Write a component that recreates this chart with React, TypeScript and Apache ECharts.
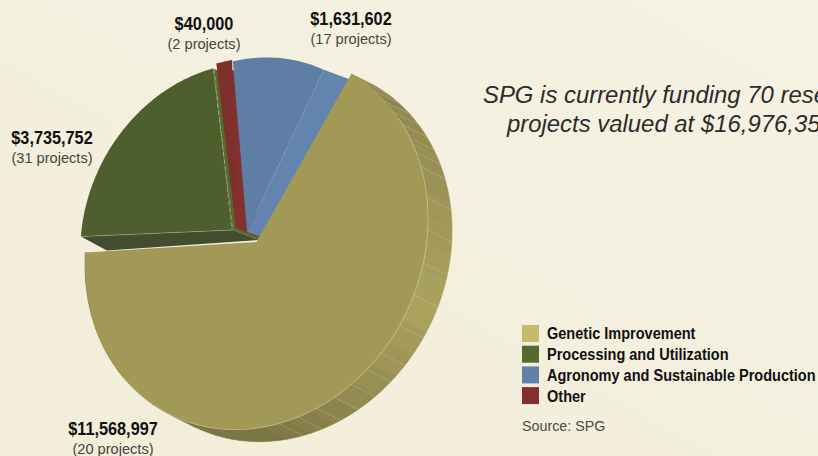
import React, { useEffect, useRef } from "react";
import * as echarts from "echarts";

const categories = ["Genetic Improvement", "Processing and Utilization", "Other", "Agronomy and Sustainable Production"];
const legendOrder = ["Genetic Improvement", "Processing and Utilization", "Agronomy and Sustainable Production", "Other"];
const fundingValues = [11568997, 3735752, 40000, 1631602];
const projectCounts = [20, 31, 2, 17];
const legendColors = ["#c8ba6c", "#56692f", "#84302e", "#6180aa"];
const topColors = ["#a29956", "#4f5e2d", "#7d302c", "#5f7ea6"];

const headline = ["SPG is currently funding 70 research", "projects valued at $16,976,351"];
const sourceNote = "Source: SPG";

// slice geometry of the tilted disc
const A = 193;
const B = 165.5;
const TILT = (27 * Math.PI) / 180;
const START = 2.8;
const PAD = 1.8;
const MIN_RED = 5.8;
const tips = [[256.5, 242], [233, 230], [236, 228], [247, 232]];
const radiusScale = [1, 0.89, 0.905, 0.93];
const angleNudge = [0, -0.9, -2.4, -2.9];
const depths = [[24, 12], [26, 10], [24, 10], [27, 10]];
const labelPos = [[113, 429], [52, 138], [204, 24], [351, 19]];

const total = fundingValues.reduce((a, b) => a + b, 0);
const sweepTotal = 360 - 4 * PAD;

function ringPoint(i: number, deg: number, extra = [0, 0]) {
  const t = (deg * Math.PI) / 180;
  const r = radiusScale[i];
  const u = r * A * Math.cos(t);
  const v = r * B * Math.sin(t);
  return [
    tips[i][0] + u * Math.sin(TILT) + v * Math.cos(TILT) + extra[0],
    tips[i][1] - u * Math.cos(TILT) + v * Math.sin(TILT) + extra[1],
  ];
}

function arcPoints(i: number, from: number, to: number, extra = [0, 0]) {
  const n = Math.max(2, Math.ceil(Math.abs(to - from)));
  const pts: number[][] = [];
  for (let k = 0; k <= n; k++) pts.push(ringPoint(i, from + ((to - from) * k) / n, extra));
  return pts;
}

function angleRange(i: number) {
  let a = START;
  for (let k = 0; k < i; k++) a += (fundingValues[k] / total) * sweepTotal + PAD;
  a += angleNudge[i];
  const span = (fundingValues[i] / total) * sweepTotal;
  return [a, a + Math.max(span, i === 2 ? MIN_RED : span)];
}

function poly(points: number[][], fill: string, extra: any = {}) {
  return { type: "polygon", shape: { points }, style: { fill, ...extra }, silent: true };
}

function lerpColor(c1: number[], c2: number[], f: number) {
  return `rgb(${c1.map((c, i) => Math.round(c + (c2[i] - c) * f)).join(",")})`;
}

function wallColor(deg: number) {
  const bright = [171, 162, 94];
  const dark = [123, 116, 67];
  const upper = [140, 132, 78];
  if (deg < 85) return lerpColor(upper, bright, Math.max(0, deg - 10) / 75);
  if (deg < 150) return lerpColor(bright, dark, (deg - 85) / 65);
  return lerpColor(dark, dark, 0);
}

function renderSlice(i: number) {
  return (_params: any, api: any) => {
    api.value(0);
    const [from, to] = angleRange(i);
    const d = depths[i];
    const tip = tips[i];
    const tipD = [tip[0] + d[0], tip[1] + d[1]];
    const children: any[] = [];
    if (i === 0) {
      const stepDeg = 8;
      for (let a = from; a < to; a += stepDeg) {
        const b = Math.min(to, a + stepDeg);
        const q = [...arcPoints(0, a, b), ...arcPoints(0, b, a, d)];
        children.push(poly(q, wallColor((a + b) / 2), { stroke: wallColor((a + b) / 2), lineWidth: 0.6 }));
      }
      for (let a = from + 5; a < 142; a += a < 40 ? 5 : a < 95 ? 10 : 6.5) {
        const p = ringPoint(0, a);
        const q = ringPoint(0, a, d);
        children.push({
          type: "line",
          shape: { x1: p[0], y1: p[1], x2: q[0], y2: q[1] },
          style: { stroke: "rgba(240,236,205,0.45)", lineWidth: 0.7, lineDash: [2, 1] },
          silent: true,
        });
      }
    }
    if (i === 1) {
      children.push(poly([tip, ringPoint(1, from), ringPoint(1, from, [26, 14]), tipD], "#434c2e"));
      children.push(poly([tip, ringPoint(1, to), ringPoint(1, to, d), tipD], "#56692f"));
    }
    if (i === 2) {
      children.push(poly([tip, ringPoint(2, from), ringPoint(2, from, d), tipD], "#84302e"));
    }
    if (i === 3) {
      children.push(poly([tip, ringPoint(3, to), ringPoint(3, to, d), tipD], "#6484b0"));
    }
    children.push(poly([tip, ...arcPoints(i, from, to)], topColors[i]));
    if (i === 0) {
      children.push({
        type: "polyline",
        shape: { points: arcPoints(0, 25, 200) },
        style: { fill: "none", stroke: "rgba(240,236,205,0.5)", lineWidth: 0.7 },
        silent: true,
      });
    }
    if (i === 1) {
      const e = ringPoint(1, to);
      const s = ringPoint(1, from);
      children.push({
        type: "line",
        shape: { x1: e[0] + 1, y1: e[1], x2: tip[0] - 1, y2: tip[1] },
        style: { stroke: "rgba(220,225,190,0.55)", lineWidth: 0.8, lineDash: [5, 2] },
        silent: true,
      });
      children.push({
        type: "line",
        shape: { x1: s[0], y1: s[1], x2: tip[0], y2: tip[1] },
        style: { stroke: "rgba(220,225,190,0.4)", lineWidth: 0.8 },
        silent: true,
      });
    }
    return { type: "group", children };
  };
}

const SANS = "'Liberation Sans', Arial, sans-serif";

function formatMoney(v: number) {
  return "$" + v.toLocaleString("en-US");
}

export default function App() {
  const ref = useRef<HTMLDivElement>(null);
  useEffect(() => {
    const chart = echarts.init(ref.current!, undefined, { renderer: "svg" });
    const drawOrder = [1, 2, 3, 0];
    const labels: any[] = [];
    fundingValues.forEach((v, i) => {
      labels.push({
        type: "text",
        x: labelPos[i][0],
        y: labelPos[i][1],
        scaleX: 0.88,
        style: {
          text: formatMoney(v),
          font: `bold 18.5px ${SANS}`,
          fill: "#111",
          textAlign: "center",
          textVerticalAlign: "middle",
        },
      });
      labels.push({
        type: "text",
        x: labelPos[i][0],
        y: labelPos[i][1] + 20,
        style: {
          text: `(${projectCounts[i]} projects)`,
          font: `14.6px ${SANS}`,
          fill: "#45453f",
          textAlign: "center",
          textVerticalAlign: "middle",
        },
      });
    });
    const legendItems: any[] = [];
    legendOrder.forEach((name, k) => {
      const y = 325 + k * 20.7;
      legendItems.push({
        type: "rect",
        shape: { x: 522, y, width: 17, height: 17 },
        style: { fill: legendColors[categories.indexOf(name)] },
      });
      legendItems.push({
        type: "text",
        x: 547,
        y: y + 8.5,
        scaleX: 0.855,
        style: {
          text: name,
          font: `bold 17px ${SANS}`,
          fill: "#111",
          textAlign: "left",
          textVerticalAlign: "middle",
        },
      });
    });
    chart.setOption({
      animation: false,
      backgroundColor: new echarts.graphic.LinearGradient(0, 1, 1, 0, [
        { offset: 0, color: "#f2edd8" },
        { offset: 1, color: "#f6f2e4" },
      ]),
      series: drawOrder.map((i) => ({
        type: "custom",
        name: categories[i],
        coordinateSystem: "none",
        silent: true,
        itemStyle: { color: legendColors[i] },
        data: [[fundingValues[i]]],
        renderItem: renderSlice(i),
      })),
      graphic: [
        ...labels,
        ...legendItems,
        ...headline.map((line, k) => ({
          type: "text",
          x: k === 0 ? 483 : 507,
          y: 94 + k * 29,
          style: {
            text: line,
            font: `italic 23.9px ${SANS}`,
            fill: "#2c2c2a",
            textAlign: "left",
            textVerticalAlign: "middle",
          },
        })),
        {
          type: "text",
          x: 522,
          y: 426,
          style: { text: sourceNote, font: `14.3px ${SANS}`, fill: "#4a4a46", textVerticalAlign: "middle" },
        },
      ],
    });
    return () => chart.dispose();
  }, []);
  return <div ref={ref} style={{ position: "absolute", left: 0, top: 0, width: 818, height: 456 }} />;
}
